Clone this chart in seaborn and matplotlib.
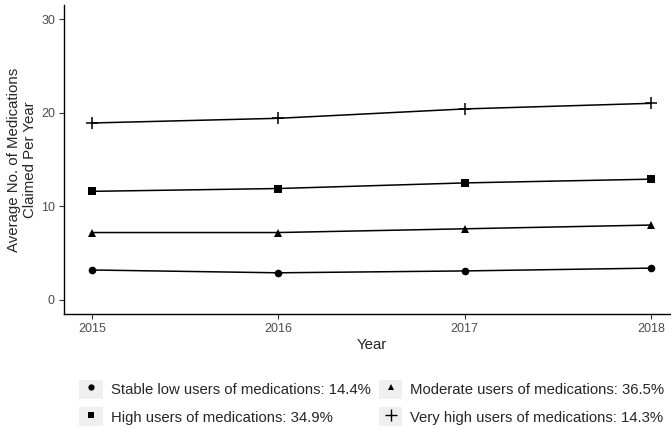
import matplotlib
matplotlib.use("Agg")
import matplotlib.pyplot as plt
from matplotlib.lines import Line2D
from matplotlib.patches import Rectangle
from matplotlib.legend_handler import HandlerTuple
import seaborn as sns
import pandas as pd

years = [2015, 2016, 2017, 2018]
stable_low = [3.2, 2.9, 3.1, 3.4]
moderate = [7.2, 7.2, 7.6, 8.0]
high = [11.6, 11.9, 12.5, 12.9]
very_high = [18.9, 19.4, 20.4, 21.0]

labels = [
    "Stable low users of medications: 14.4%",
    "Moderate users of medications: 36.5%",
    "High users of medications: 34.9%",
    "Very high users of medications: 14.3%",
]
series = [stable_low, moderate, high, very_high]
markers = ["o", "^", "s", "+"]
msizes = [5.5, 5.5, 5.5, 9]

sns.set_theme(style="ticks")
plt.rcParams["font.family"] = ["Liberation Sans", "DejaVu Sans"]

fig = plt.figure(figsize=(6.71, 4.28), dpi=100)
ax = fig.add_axes([64 / 671, 114 / 428, 615 / 671, 309 / 428])

for lab, vals, mk, ms in zip(labels, series, markers, msizes):
    df = pd.DataFrame({"Year": years, "Value": vals})
    sns.lineplot(data=df, x="Year", y="Value", ax=ax, color="black",
                 linewidth=1.1, marker=mk, markersize=ms,
                 markeredgewidth=1.1 if mk == "+" else 0,
                 markeredgecolor="black", markerfacecolor="black", legend=False)

ax.set_xlim(2014.85, 2018.15)
ax.set_ylim(-1.5, 31.5)
ax.set_xticks(years)
ax.set_yticks([0, 10, 20, 30])
ax.tick_params(axis="both", labelsize=9, labelcolor="#4d4d4d",
               length=3.5, width=0.8, color="#333333", pad=3)
for s in ["top", "right"]:
    ax.spines[s].set_visible(False)
for s in ["left", "bottom"]:
    ax.spines[s].set_linewidth(1.0)
    ax.spines[s].set_color("black")
ax.set_xlabel("Year", fontsize=10.8, labelpad=2)
ax.set_ylabel("Average No. of Medications\nClaimed Per Year", fontsize=10.8,
              labelpad=3, linespacing=1.15)

# legend with light grey key boxes (ggplot style)
handles = []
for mk in markers:
    box = Rectangle((0, 0), 1, 1, facecolor="#efefef", edgecolor="none")
    m = Line2D([], [], color="black", linestyle="none", marker=mk,
               markersize=8 if mk == "+" else 4.5, markeredgewidth=1.0 if mk == "+" else 0)
    handles.append((box, m))
order = [0, 2, 1, 3]
fig.legend([handles[i] for i in order], [labels[i] for i in order],
           handler_map={tuple: HandlerTuple(ndivide=1, pad=0)},
           ncol=2, loc="center", bbox_to_anchor=(372 / 671, 1 - 403 / 428),
           frameon=False, fontsize=10.7, handlelength=1.55, handleheight=1.55,
           handletextpad=0.54, columnspacing=0.6, labelspacing=0.6,
           borderpad=0, borderaxespad=0)

fig.savefig("out.png", dpi=100)
